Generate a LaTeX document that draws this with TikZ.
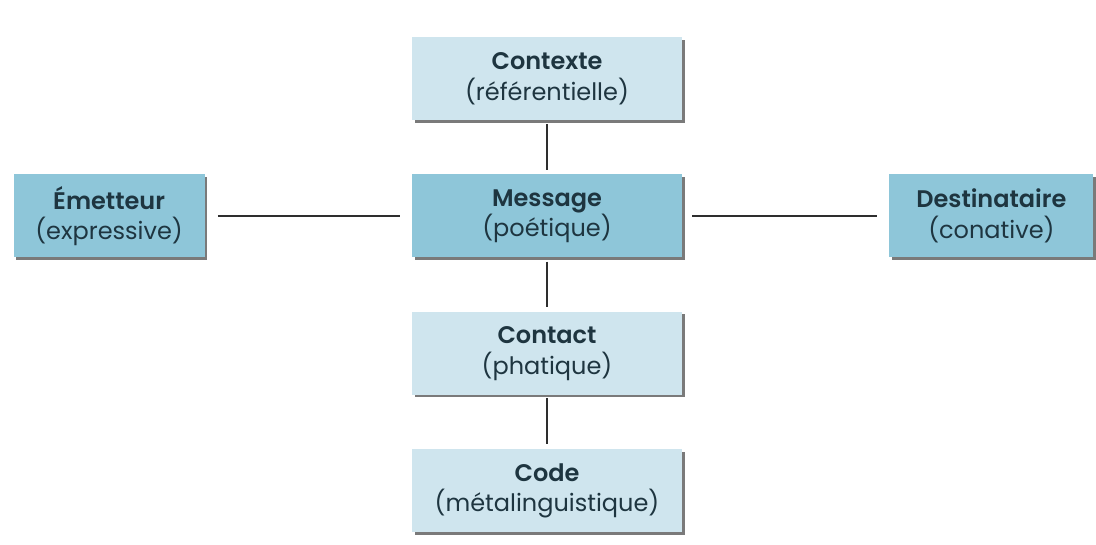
\documentclass[tikz,border=0pt]{standalone}
\usepackage{fontspec}
\setmainfont{Poppins}[BoldFont={Poppins SemiBold}]
\usetikzlibrary{positioning,shadows}
\definecolor{paleblue}{HTML}{CFE5EE}
\definecolor{midblue}{HTML}{8EC6D9}
\definecolor{inkblue}{HTML}{1E3540}
\definecolor{wiregray}{HTML}{2E2E2E}

\begin{document}
\begin{tikzpicture}[x=1pt,y=1pt,node distance=54pt and 207pt,
                    fn box/.style={rectangle,fill=paleblue,align=center,text=inkblue,
                      font=\fontsize{24}{30.5}\selectfont,minimum width=270pt,minimum height=83pt,
                      inner sep=0pt,drop shadow={shadow xshift=2.5pt,shadow yshift=-2.5pt,
                      fill=black!65,opacity=.8}},
                    key box/.style={fn box,fill=midblue}]
    \useasboundingbox (0,0) rectangle (1096,544);
    \node[key box] (msg) at (547,328) {\textbf{Message}\\(poétique)};
    \node[fn box] (ctx) [above=of msg] {\textbf{Contexte}\\(référentielle)};
    \node[fn box] (cnt) [below=of msg] {\textbf{Contact}\\(phatique)};
    \node[fn box] (code) [below=of cnt] {\textbf{Code}\\(métalinguistique)};
    \node[key box,minimum width=191pt] (emt) [left=of msg] {\textbf{Émetteur}\\(expressive)};
    \node[key box,minimum width=204pt] (dst) [right=of msg] {\textbf{Destinataire}\\(conative)};
    \path[every edge/.style={draw=wiregray,line width=2.4pt}]
        (ctx) edge[shorten <=4pt,shorten >=4pt] (msg)
        (msg) edge[shorten <=4pt,shorten >=5pt] (cnt)
        (cnt) edge[shorten <=3pt,shorten >=5pt] (code)
        (emt) edge[shorten <=13pt,shorten >=12pt] (msg)
        (msg) edge[shorten <=10pt,shorten >=12pt] (dst);
\end{tikzpicture}
\end{document}
